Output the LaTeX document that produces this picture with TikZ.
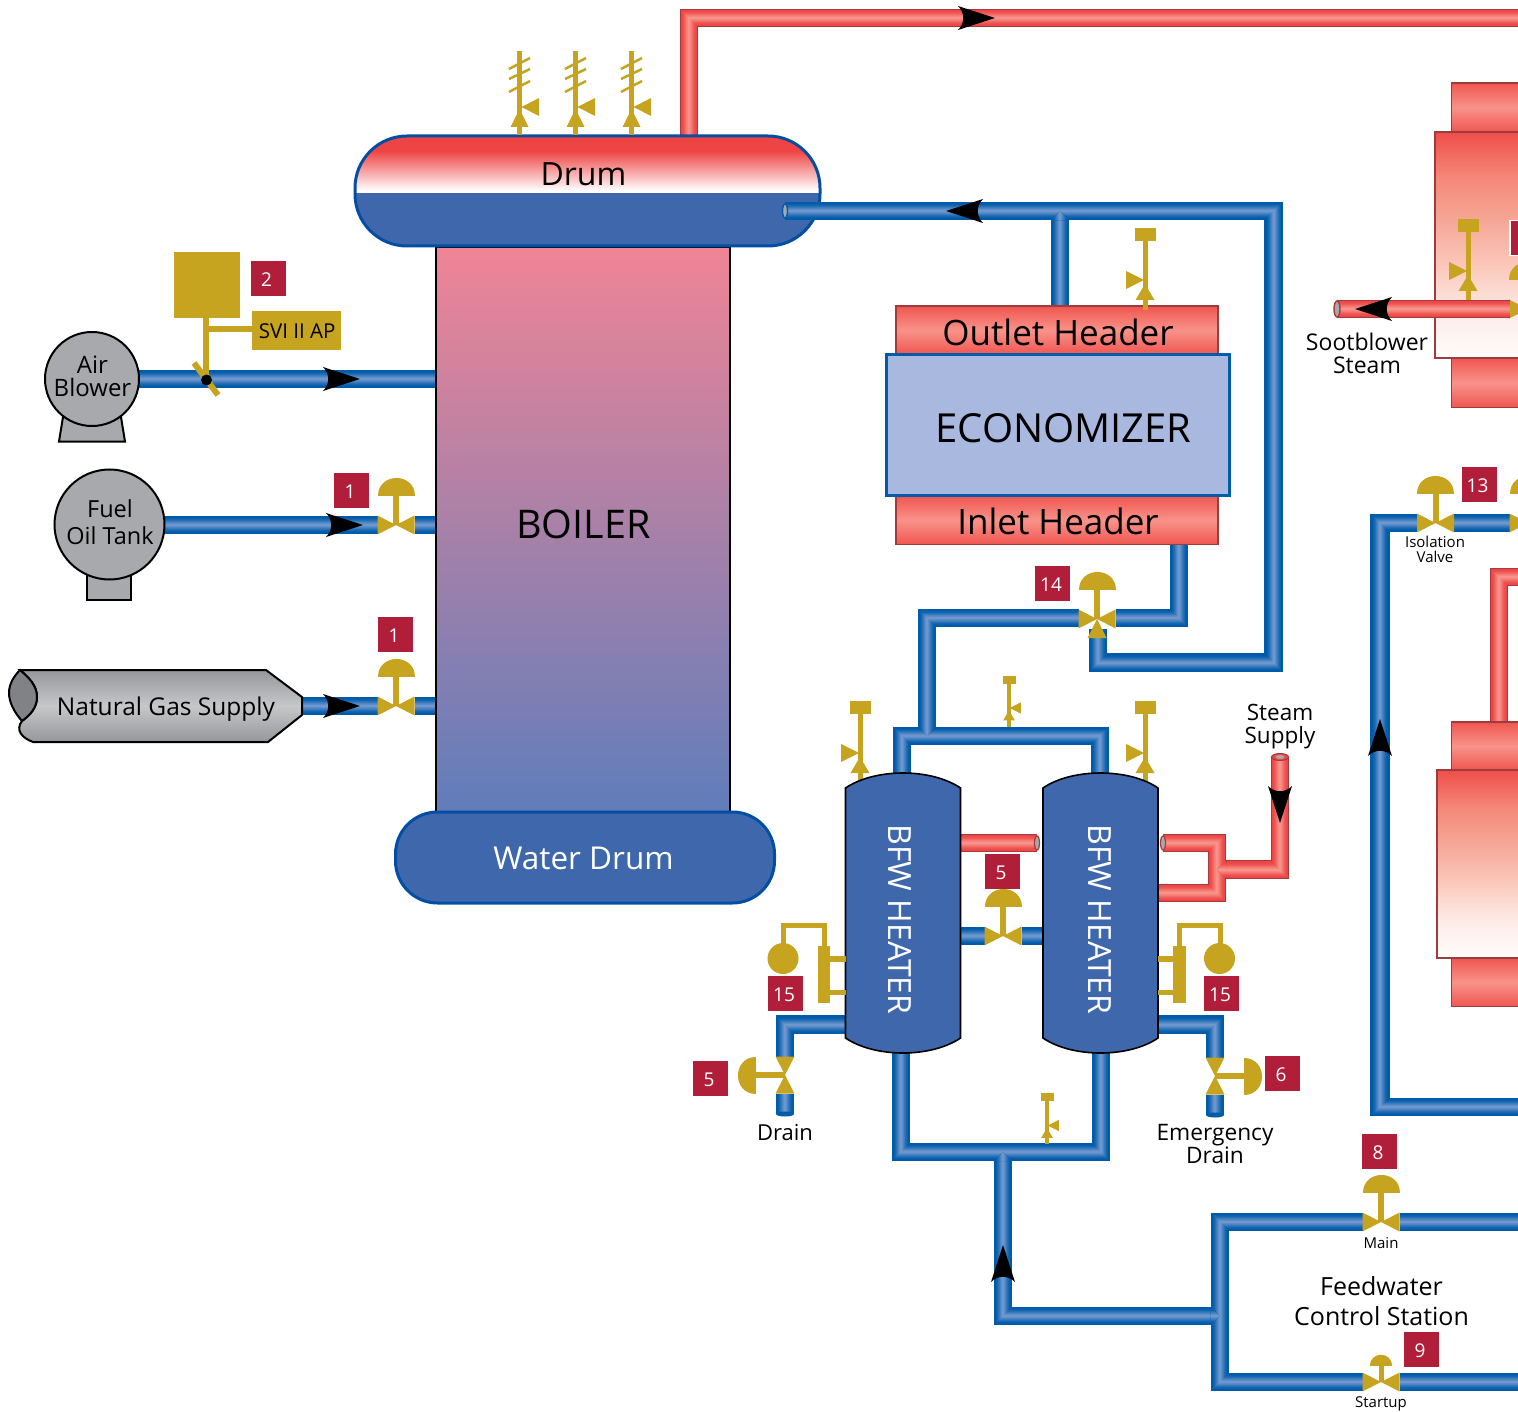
\documentclass[tikz,border=0pt]{standalone}
\usepackage{fontspec}
\setmainfont{Open Sans}
\usetikzlibrary{calc}
\definecolor{gold}{HTML}{C6A41F}
\definecolor{badgeC}{HTML}{B01E39}
\definecolor{pipeB}{HTML}{005BAA}
\definecolor{pipeBL}{HTML}{6E97CE}
\definecolor{pipeR}{HTML}{EE4646}
\definecolor{pipeRL}{HTML}{F8938A}
\definecolor{pipeRE}{HTML}{A63A3C}
\definecolor{vessel}{HTML}{3F68AC}
\definecolor{vesselE}{HTML}{034EA2}
\definecolor{machine}{HTML}{A7A9AC}
\definecolor{econ}{HTML}{A9B8DE}
\definecolor{redTop}{HTML}{EF4444}
\definecolor{redBand}{HTML}{F05650}
\definecolor{redEdge}{HTML}{9E3B3D}
\definecolor{boilerTop}{HTML}{F08496}
\definecolor{boilerBot}{HTML}{5F7DBB}
\definecolor{gasD}{HTML}{96979A}
\definecolor{gasL}{HTML}{C6C7C9}
\definecolor{gasEnd}{HTML}{808285}
\definecolor{fadeA}{HTML}{EF4E4A}
\definecolor{fadeB}{HTML}{F58878}
\definecolor{fadeC}{HTML}{F6A898}
\definecolor{fadeD}{HTML}{FBC9BC}
\definecolor{fadeE}{HTML}{FDEBE5}
\definecolor{fadeF}{HTML}{FFFDFC}
\pgfdeclareverticalshading{redfade}{100bp}{color(0bp)=(white);color(25bp)=(white);color(27bp)=(white);color(62bp)=(redTop);color(100bp)=(redTop)}
\pgfdeclareverticalshading{bodyfade}{100bp}{color(0bp)=(fadeF);color(25bp)=(fadeF);color(35bp)=(fadeE);color(45bp)=(fadeD);color(55bp)=(fadeC);color(65bp)=(fadeB);color(75bp)=(fadeA);color(100bp)=(fadeA)}
\pgfdeclareverticalshading{redband}{100bp}{color(0bp)=(redBand);color(25bp)=(redBand);color(50bp)=(pipeRL);color(75bp)=(redBand);color(100bp)=(redBand)}
\newcommand\bluepipe[1]{\foreach \w/\p in {18.5/100,16/100,14/92,12/80,10/65,8/48,6/30,4/15,2/0}{\draw[line width=\w pt,draw=pipeB!\p!pipeBL,line join=miter] #1;}}
\newcommand\redpipe[1]{\draw[line width=18.5pt,draw=pipeRE,line join=miter] #1;\foreach \w/\p in {16.5/100,14/95,12/85,10/70,8/50,6/32,4/15,2/0}{\draw[line width=\w pt,draw=pipeR!\p!pipeRL,line join=miter] #1;}}
\newcommand\fs[2]{\fontsize{#1}{#2}\selectfont}
\newcommand\valvedraw{\fill[gold] (-18.5,-9.5)--(-18.5,9.5)--(0,0)--cycle (18.5,-9.5)--(18.5,9.5)--(0,0)--cycle;
    \fill[gold] (-3,0) rectangle (3,-30);
    \fill[gold] (-18.5,-29) .. controls (-18.5,-53) and (18.5,-53) .. (18.5,-29)--cycle;}
\tikzset{
  lbl/.style={inner sep=0pt,align=center,text=black},
  badge/.style={fill=badgeC,text=white,minimum size=35pt,inner sep=0pt,text height=15.6pt,text depth=0pt,execute at end node={\hspace{3pt}},font=\fontsize{19}{21}\selectfont},
  vesselbox/.style={fill=vessel,draw=vesselE,line width=3pt},
  heater/.style={fill=vessel,draw=black,line width=1.6pt},
  machinebody/.style={fill=machine,draw=black,line width=2pt},
  collar/.style={shading=redband,draw=redEdge,line width=1.5pt},
  redbody/.style={shading=bodyfade,draw=redEdge,line width=1.8pt},
  flowarrow/.pic={\fill[black] (37,0)--(0,12) .. controls (7,5) and (7,-5) .. (0,-12)--cycle;},
  actuated/.pic={\fill[white] (-18.5,-10) rectangle (18.5,10); \valvedraw},
  bareactuated/.pic={\valvedraw},
  smallactuated/.pic={\fill[white] (-18.5,-10) rectangle (18.5,10);
    \fill[gold] (-18.5,-9.5)--(-18.5,9.5)--(0,0)--cycle (18.5,-9.5)--(18.5,9.5)--(0,0)--cycle;
    \fill[gold] (-2.5,0) rectangle (2.5,-17);
    \fill[gold] (-11,-16) .. controls (-11,-31) and (11,-31) .. (11,-16)--cycle;},
  threeway/.pic={\fill[gold] (0,0)--(-9.5,19)--(9.5,19)--cycle;},
  safety/.pic={\fill[gold] (-10.5,-52) rectangle (10.5,-39);
    \fill[gold] (-2.5,-39) rectangle (2.5,30);
    \fill[gold] (-19,-9)--(-19,9)--(-1,0)--cycle;
    \fill[gold] (0,4)--(-9.5,20)--(9.5,20)--cycle;},
  relief/.pic={\fill[gold] (-2.5,-56) rectangle (2.5,28);
    \draw[gold,line width=2.5pt] (-10.5,-38)--(10.5,-49) (-10.5,-28)--(10.5,-38) (-10.5,-15)--(10.5,-26);
    \fill[gold] (19.5,-9)--(19.5,9)--(2,0)--cycle;
    \fill[gold] (0,2)--(-9,20)--(9,20)--cycle;}
}
\begin{document}
\begin{tikzpicture}[x=1pt,y=-1pt]
\useasboundingbox (0,0) rectangle (1518,1412);
\clip (0,0) rectangle (1518,1412);
% named pipe points
\coordinate (airOut) at (138,379); \coordinate (airIn) at (437,379);
\coordinate (oilOut) at (160,525); \coordinate (oilIn) at (437,525);
\coordinate (gasOut) at (300,706); \coordinate (gasIn) at (437,706);
\coordinate (drumSteam) at (689,140); \coordinate (steamCorner) at (689,18); \coordinate (steamEdge) at (1520,18);
\coordinate (drumFeed) at (785,211); \coordinate (feedCorner) at (1273.5,211); \coordinate (returnCorner) at (1273.5,662.5);
\coordinate (returnLeft) at (1098,662.5); \coordinate (tee) at (1098,625);
\coordinate (outletTop) at (1060,310); \coordinate (outletTee) at (1060,211);
\coordinate (inletBottom) at (1179,540); \coordinate (inletCorner) at (1179,618);
\coordinate (teeLeft) at (927,618); \coordinate (hTop) at (927,736);
\coordinate (hTopL) at (902,736); \coordinate (hTopR) at (1100,736);
\coordinate (hL) at (902,780); \coordinate (hR) at (1100,780);
\coordinate (hLb) at (901,1045); \coordinate (hRb) at (1101,1045);
\coordinate (botL) at (901,1152); \coordinate (botR) at (1101,1152);
\coordinate (botTee) at (1003,1152); \coordinate (fwIn) at (1003,1316); \coordinate (fwTee) at (1220,1316);
\coordinate (fwTL) at (1220,1222); \coordinate (fwBL) at (1220,1382);
\coordinate (fwTR) at (1520,1222); \coordinate (fwBR) at (1520,1382);
\coordinate (isoR) at (1520,523); \coordinate (isoL) at (1380,523); \coordinate (riserB) at (1380,1107); \coordinate (riserR) at (1520,1107);
\coordinate (riserUnderTop) at (1380,514); \coordinate (riserUnderBot) at (1380,1116);
\coordinate (midL) at (955,936); \coordinate (midR) at (1050,936);
\coordinate (drnL0) at (850,1024.5); \coordinate (drnL1) at (785,1024.5); \coordinate (drnL2) at (785,1114);
\coordinate (drnR0) at (1154,1024.5); \coordinate (drnR1) at (1215,1024.5); \coordinate (drnR2) at (1215,1115);
% blue pipes
\bluepipe{(airOut)--(airIn)}
\bluepipe{(oilOut)--(oilIn)}
\bluepipe{(gasOut)--(gasIn)}
\bluepipe{(outletTop)--(outletTee)}
\bluepipe{(drumFeed)--(feedCorner)--(returnCorner)--(returnLeft)--(tee)}
\begin{scope}\clip (1051,220.5)--(1069,220.5)--(1060,211)--cycle;\bluepipe{(outletTop)--(outletTee)}\end{scope}
\bluepipe{(inletBottom)--(inletCorner)--(teeLeft)--(hTop)}
\bluepipe{(hL)--(hTopL)--(hTopR)--(hR)}
\begin{scope}\clip (918,727)--(936,727)--(927,736)--cycle;\bluepipe{(teeLeft)--(hTop)}\end{scope}
\bluepipe{(botTee)--(fwIn)--(fwTee)}
\bluepipe{(hLb)--(botL)--(botR)--(hRb)}
\begin{scope}\clip (994,1161.5)--(1012,1161.5)--(1003,1152)--cycle;\bluepipe{(botTee)--(fwIn)}\end{scope}
\bluepipe{(fwTR)--(fwTL)--(fwBL)--(fwBR)}
\begin{scope}\clip (1210.5,1307)--(1210.5,1325)--(1220,1316)--cycle;\bluepipe{(fwIn)--(fwTee)}\end{scope}
\draw[line width=20pt,pipeB] (riserUnderTop)--(riserUnderBot);
\bluepipe{(isoR)--(isoL)--(riserB)--(riserR)}
\bluepipe{(midL)--(midR)}
\bluepipe{(drnL0)--(drnL1)--(drnL2)}
\bluepipe{(drnR0)--(drnR1)--(drnR2)}
\fill[pipeB] (785,1114) ellipse (9 and 2.5);
\fill[pipeB] (1215,1115) ellipse (9 and 2.5);
% red pipes
\coordinate (stubL0) at (958,843); \coordinate (stubL1) at (1037,843);
\coordinate (stubR0) at (1163,843); \coordinate (stubR1) at (1217,843); \coordinate (stubR2) at (1217,893); \coordinate (stubR3) at (1155,893);
\coordinate (ssTee) at (1217,869.5); \coordinate (ssCorner) at (1280,869.5); \coordinate (ssTop) at (1280,757);
\redpipe{(drumSteam)--(steamCorner)--(steamEdge)}
\redpipe{(stubL0)--(stubL1)}
\redpipe{(ssTee)--(ssCorner)--(ssTop)}
\redpipe{(stubR0)--(stubR1)--(stubR2)--(stubR3)}
\begin{scope}\clip (1226.5,860.5)--(1226.5,878.5)--(1217,869.5)--cycle;\redpipe{(ssTee)--(ssCorner)}\end{scope}
\draw[fill=machine,draw=pipeRE,line width=1.2pt] (stubL1) ellipse (2.5 and 7);
\draw[fill=machine,draw=pipeRE,line width=1.2pt] (stubR0) ellipse (2.5 and 7);
\draw[fill=pipeR,draw=pipeRE,line width=1pt] (ssTop) ellipse (8.5 and 3.5);
\fill[machine] (ssTop) ellipse (4.5 and 2);
% right-hand equipment (upper)
\draw[collar] (1451.5,83) rectangle (1530,132);
\draw[collar] (1451.5,358) rectangle (1530,407.5);
\draw[redbody] (1435,132) rectangle (1530,358);
\pic at (1468,271) {safety};
\node[badge,draw=white,line width=1.5pt,anchor=west,execute at end node={}] (badgeTop) at (1509,238) {\hspace{6pt}1};
\pic at (1527.5,309) {bareactuated};
\coordinate (sootL) at (1337,309); \coordinate (sootR) at (1510,309);
\redpipe{(sootR)--(sootL)}
\draw[fill=machine,draw=pipeRE,line width=1.4pt] (sootL) ellipse (3 and 8);
\pic[rotate=180] at (1392,309) {flowarrow};
\node[lbl,font={\fs{23}{23}}] (soot) at (1367,353.5) {Sootblower\\Steam};
% right-hand equipment (lower)
\coordinate (rhTop) at (1499,725); \coordinate (rhCorner) at (1499,577); \coordinate (rhEdge) at (1520,577);
\redpipe{(rhTop)--(rhCorner)--(rhEdge)}
\draw[collar] (1451.5,722) rectangle (1530,770);
\draw[collar] (1451.5,958) rectangle (1530,1006.5);
\draw[redbody] (1437,770) rectangle (1530,958);
% boiler
\node[draw=black,line width=2pt,minimum width=294pt,minimum height=566pt,inner sep=0pt,top color=boilerTop,bottom color=boilerBot,anchor=north west] (boiler) at (435,246) {};
\node[lbl,font={\fs{39.5}{41}}] (boilerT) at (583.5,524.5) {BOILER};
% drum
\begin{scope}
\clip[rounded corners=52pt] (355,136) rectangle (820,246);
\fill[shading=redfade] (355,136) rectangle (820,193);
\fill[vessel] (355,193) rectangle (820,246);
\end{scope}
\draw[draw=vesselE,line width=3pt,rounded corners=52pt] (355,136) rectangle (820,246);
\node[lbl,font={\fs{32}{34}}] (drum) at (583.5,174) {Drum};
\bluepipe{(drumFeed)--(825,211)}
\draw[fill=machine,draw=pipeB,line width=1.4pt] (drumFeed) ellipse (2.5 and 7);
% water drum
\node[vesselbox,rounded corners=42pt,minimum width=379pt,minimum height=91pt,inner sep=0pt,anchor=north west] (wdrum) at (394,810.5) {};
\node[lbl,text=white,font={\fs{31.5}{34}}] (wdrumT) at (583.5,858.5) {Water Drum};
% reliefs
\pic at (519.5,107) {relief};
\pic at (575.5,107) {relief};
\pic at (631.5,107) {relief};
% economizer
\node[draw=redEdge,line width=1.5pt,shading=redband,minimum width=322pt,minimum height=48pt,inner sep=0pt,anchor=north west] (outlet) at (895,305.5) {};
\node[draw=redEdge,line width=1.5pt,shading=redband,minimum width=322pt,minimum height=48pt,inner sep=0pt,anchor=north west] (inlet) at (895,495.5) {};
\node[lbl,font={\fs{35}{37}}] (outletT) at (1058,332) {Outlet Header};
\node[lbl,font={\fs{35}{37}}] (inletT) at (1058,521) {Inlet Header};
\node[fill=econ,draw=pipeB,line width=3pt,minimum width=343pt,minimum height=141pt,inner sep=0pt,anchor=north west] (econ) at (885,353) {};
\node[lbl,font={\fs{40}{42}}] (econT) at (1063.5,428) {ECONOMIZER};
\pic at (1145,280) {safety};
% air blower
\draw[machinebody] (63,417)--(59,441.5)--(125,441.5)--(121,417)--cycle;
\node[machinebody,circle,minimum size=94pt,inner sep=0pt] (air) at (92,379) {};
\node[lbl,font={\fs{24}{23}}] (airT) at (92.5,376) {Air\\Blower};
\fill[gold] (174,252) rectangle (240,318);
\fill[gold] (203,318) rectangle (209,379);
\fill[gold] (206,326) rectangle (252,332);
\node[fill=gold,minimum width=89pt,minimum height=39pt,inner sep=0pt,anchor=north west,text=black,font={\fs{20.5}{22}}] (svi) at (252,311) {\raisebox{-3pt}{\hspace{1pt}SVI II AP}};
\draw[gold,line width=6pt] (194,363)--(218,395);
\fill[black] (206.5,380) circle (5.5);
\node[badge] (b2) at (268,279) {2};
% fuel oil tank
\draw[machinebody] (87,570) rectangle (131,600);
\node[machinebody,circle,minimum size=110pt,inner sep=0pt] (oil) at (109.5,524.5) {};
\node[lbl,font={\fs{23.5}{27}}] (oilT) at (110,522.5) {Fuel\\Oil Tank};
\pic at (326,525) {flowarrow};
\pic at (396,525) {actuated};
\node[badge] (b1a) at (351.5,490.5) {1};
\pic at (323,379) {flowarrow};
% natural gas
\draw[line width=2pt,top color=gasD,bottom color=gasD,middle color=gasL] (20,670)--(266,670)--(302,697)--(302,715)--(268,742)--(33,742) .. controls (22,738) and (15,730) .. (22,721) .. controls (30,715) and (37,708) .. (37,697) .. controls (37,685) and (28,677) .. (20,670)--cycle;
\draw[line width=2pt,fill=gasEnd] (20,670) .. controls (28,677) and (37,685) .. (37,697) .. controls (37,708) and (30,715) .. (22,721) .. controls (14,712) and (9,702) .. (9,693) .. controls (9,684) and (14,676) .. (20,670)--cycle;
\node[lbl,font={\fs{24.5}{26}}] (gas) at (166,709) {Natural Gas Supply};
\pic at (323,706) {flowarrow};
\pic at (396,706) {actuated};
\node[badge] (b1b) at (395.5,634.5) {1};
% top arrow and feed arrow
\pic at (958,18) {flowarrow};
\pic[rotate=180] at (983,211) {flowarrow};
% BFW heaters
\pic at (860,753) {safety};
\pic at (1145,753) {safety};
\pic[xscale=-.62,yscale=.62] at (1009,708) {safety};
\draw[heater] (845.5,788) .. controls (875,768) and (931,768) .. (960.5,788)--(960.5,1038) .. controls (931,1058) and (875,1058) .. (845.5,1038)--cycle;
\draw[heater] (1043,788) .. controls (1072,768) and (1129,768) .. (1158,788)--(1158,1038) .. controls (1129,1058) and (1072,1058) .. (1043,1038)--cycle;
\node[lbl,text=white,rotate=-90,font={\fs{32}{34}}] (h1) at (899.5,919.5) {BFW HEATER};
\node[lbl,text=white,rotate=-90,font={\fs{32}{34}}] (h2) at (1099.5,919.5) {BFW HEATER};
\pic at (1003,936) {actuated};
\node[badge] (b5m) at (1002.5,871.5) {5};
% level gauges
\fill[gold] (817.5,946) rectangle (830,1003);
\fill[gold] (830,956) rectangle (846,962);
\fill[gold] (830,990) rectangle (846,995);
\draw[gold,line width=5pt,line join=miter] (824,946)--(824,925.5)--(783,925.5)--(783,950);
\fill[gold] (783,958.5) circle (15.5);
\node[badge] (b15a) at (785.5,993.5) {15};
\fill[gold] (1173,946) rectangle (1186,1003);
\fill[gold] (1158,956) rectangle (1173,962);
\fill[gold] (1158,990) rectangle (1173,995);
\draw[gold,line width=5pt,line join=miter] (1179.5,946)--(1179.5,925.5)--(1220,925.5)--(1220,950);
\fill[gold] (1219.5,958.5) circle (15.5);
\node[badge] (b15b) at (1221.5,993.5) {15};
% drains
\pic[rotate=90] at (785,1075) {actuated};
\pic[rotate=-90] at (1215,1076) {actuated};
\node[badge] (b5d) at (710.5,1078.5) {5};
\node[badge] (b6) at (1282.5,1073.5) {6};
\node[lbl,font={\fs{22}{24}}] (drain) at (785,1133) {Drain};
\node[lbl,font={\fs{22.7}{23}}] (edrain) at (1215,1144) {Emergency\\Drain};
\pic[xscale=-.62,yscale=.62] at (1047,1125.5) {safety};
% three-way
\pic at (1097,619) {actuated};
\pic at (1097,619) {threeway};
\node[badge] (b14) at (1052.5,583.5) {14};
% steam supply
\node[lbl,font={\fs{22.5}{23}}] (steam) at (1280,726.5) {Steam\\Supply};
\pic[rotate=-90] at (1280,786) {flowarrow};
% feedwater arrow
\pic[rotate=90] at (1003,1282) {flowarrow};
\pic[rotate=90] at (1380,756) {flowarrow};
% feedwater station
\pic at (1381,1222) {actuated};
\pic at (1381,1382) {smallactuated};
\node[badge] (b8) at (1379.5,1151.5) {8};
\node[badge] (b9) at (1421.5,1349.5) {9};
\node[lbl,font={\fs{15}{17}}] (main) at (1381,1243) {Main};
\node[lbl,font={\fs{15}{17}}] (startup) at (1381,1403.5) {Startup};
\node[lbl,font={\fs{25}{30}}] (fw) at (1381.5,1301) {Feedwater\\Control Station};
% isolation
\pic at (1435.5,523) {actuated};
\pic at (1528,523) {actuated};
\node[badge] (b13) at (1479,484.5) {13};
\node[lbl,font={\fs{15}{15}}] (iso) at (1435,549.5) {Isolation\\Valve};
\end{tikzpicture}
\end{document}
